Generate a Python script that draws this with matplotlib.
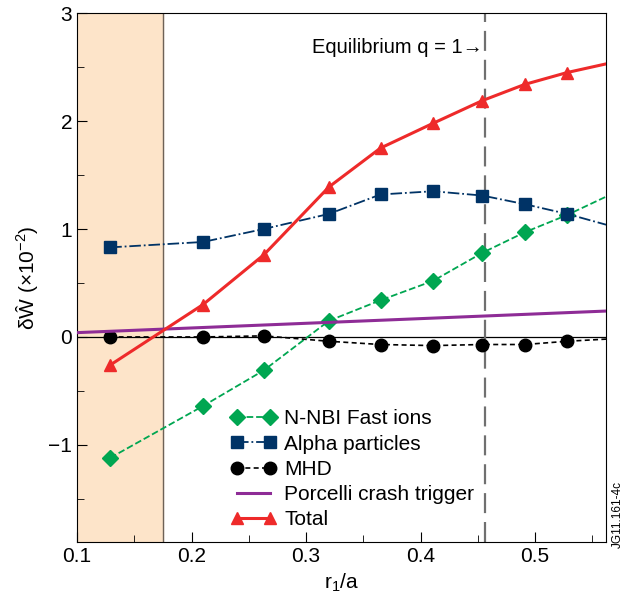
import numpy as np
import matplotlib.pyplot as plt
from matplotlib.ticker import MultipleLocator

plt.rcParams['font.family'] = ['Liberation Sans', 'DejaVu Sans']
plt.rcParams['mathtext.default'] = 'regular'

# radial positions of the computed points (last entry = curve end at the right edge)
r_pts = [0.129, 0.21, 0.263, 0.32, 0.365, 0.411, 0.454, 0.491, 0.528, 0.562]

# delta W values (x10^-2)
nnbi = [-1.12, -0.64, -0.31, 0.15, 0.34, 0.52, 0.78, 0.97, 1.13, 1.30]
alpha = [0.83, 0.88, 1.00, 1.14, 1.32, 1.35, 1.31, 1.23, 1.14, 1.04]
mhd = [0.0, 0.0, 0.01, -0.04, -0.07, -0.08, -0.07, -0.07, -0.04, -0.02]
total = [-0.26, 0.30, 0.76, 1.39, 1.75, 1.98, 2.19, 2.34, 2.45, 2.53]

# Porcelli crash trigger threshold (straight line)
porcelli_r = [0.1, 0.562]
porcelli = [0.04, 0.24]

r_shade = 0.175   # edge of shaded region
r_q1 = 0.456      # equilibrium q = 1 position

marks = list(range(9))  # markers on the computed points only

fig = plt.figure(figsize=(6.34, 5.98), dpi=100)
ax = fig.add_axes([0.1215, 0.0936, 0.8345, 0.8844])

ax.axvspan(0.1, r_shade, color='#FDE4C9', zorder=0)
ax.axvline(r_shade, color='#6e6258', lw=1.0, zorder=1)
ax.axhline(0, color='black', lw=0.9, zorder=1)
ax.axvline(r_q1, color='#707070', lw=1.6, dashes=(9, 4), zorder=1)

ax.plot(r_pts, nnbi, color='#00A651', ls='--', lw=1.3, marker='D', ms=8,
        markevery=marks, label='N-NBI Fast ions', zorder=3)
ax.plot(r_pts, alpha, color='#003366', ls='-.', lw=1.3, marker='s', ms=9,
        markevery=marks, label='Alpha particles', zorder=3)
ax.plot(r_pts, mhd, color='black', lw=1.2, dashes=(3, 2), marker='o', ms=9,
        markevery=marks, label='MHD', zorder=3)
ax.plot(porcelli_r, porcelli, color='#8E2C96', lw=2.2,
        label='Porcelli crash trigger', zorder=3)
ax.plot(r_pts, total, color='#EE2A2A', lw=2.2, marker='^', ms=9,
        markevery=marks, label='Total', zorder=4)

ax.set_xlim(0.1, 0.562)
ax.set_ylim(-1.9, 3)
ax.xaxis.set_major_locator(MultipleLocator(0.1))
ax.xaxis.set_minor_locator(MultipleLocator(0.05))
ax.yaxis.set_major_locator(MultipleLocator(1))
ax.yaxis.set_minor_locator(MultipleLocator(0.5))
ax.tick_params(which='both', direction='in', top=False, right=False, labelsize=15)
ax.tick_params(which='major', length=7)
ax.tick_params(which='minor', length=5)

ax.set_xlabel('r$_1$/a', fontsize=15, labelpad=4)
ax.set_ylabel('δŴ (×10$^{-2}$)', fontsize=15, labelpad=6)

ax.text(r_q1 - 0.002, 2.68, 'Equilibrium q = 1→', ha='right', va='center', fontsize=14.5)

ax.legend(loc='lower left', bbox_to_anchor=(0.274, 0.008), frameon=False, fontsize=15,
          numpoints=2, handlelength=2.2, labelspacing=0.3, handletextpad=0.4,
          borderaxespad=0)

fig.text(0.975, 0.14, 'JG11.161-4c', rotation=90, fontsize=8.5, ha='center', va='center')

fig.savefig('out.png', dpi=100)
